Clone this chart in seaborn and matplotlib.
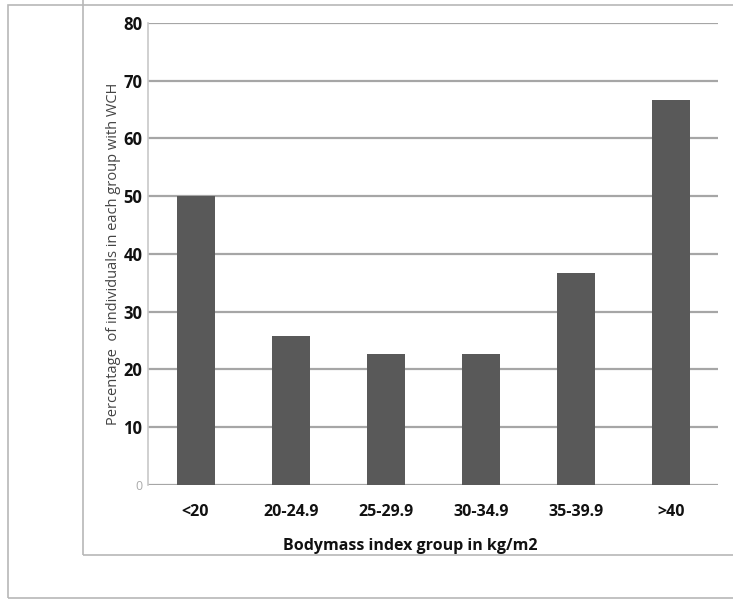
import matplotlib
matplotlib.use("Agg")
import matplotlib.pyplot as plt
import seaborn as sns
import pandas as pd
from matplotlib.patches import Rectangle

# data
groups = ["<20", "20-24.9", "25-29.9", "30-34.9", "35-39.9", ">40"]
pct_wch = [50.0, 25.8, 22.6, 22.6, 36.6, 66.7]
yticks = [0, 10, 20, 30, 40, 50, 60, 70, 80]

df = pd.DataFrame({"group": groups, "pct": pct_wch})

sns.set_style("white")
plt.rcParams["font.family"] = ["Open Sans", "DejaVu Sans"]

fig = plt.figure(figsize=(7.33, 6), dpi=100)
ax = fig.add_axes([0.202, 0.192, 0.778, 0.770])

# frames around the chart
fig.patches.append(Rectangle((0.011, 0.003), 1.2, 0.989, transform=fig.transFigure,
                             fill=False, edgecolor="#b8b8b8", linewidth=1.2))
fig.patches.append(Rectangle((0.113, 0.075), 1.2, 1.2, transform=fig.transFigure,
                             fill=False, edgecolor="#b8b8b8", linewidth=1.2))

sns.barplot(data=df, x="group", y="pct", color="#595959", saturation=1,
            width=0.4, linewidth=0, ax=ax, zorder=3)

ax.set_ylim(0, 80)
ax.set_xlim(-0.5, 5.5)
ax.set_yticks(yticks)
ax.set_yticklabels([str(t) for t in yticks])
for lab in ax.get_yticklabels():
    lab.set_fontweight("bold")
    lab.set_fontsize(12)
    lab.set_color("#111111")
ax.get_yticklabels()[0].set_color("#aaaaaa")
ax.get_yticklabels()[0].set_fontweight("normal")
ax.get_yticklabels()[0].set_fontsize(9)

ax.tick_params(axis="x", length=0, pad=14, labelsize=11.5)
ax.tick_params(axis="y", length=0, pad=4)
for lab in ax.get_xticklabels():
    lab.set_fontweight("bold")
    lab.set_color("#111111")

ax.grid(axis="y", color="#a6a6a6", linewidth=1.6, zorder=0)
ax.set_axisbelow(True)
for s in ["top", "right", "bottom"]:
    ax.spines[s].set_visible(False)
ax.spines["left"].set_color("#c8c8c8")
ax.spines["left"].set_linewidth(1.2)

ax.set_xlabel("Bodymass index group in kg/m2", fontsize=11.5, fontweight="bold",
              color="#111111", labelpad=14)
ax.xaxis.set_label_coords(0.46, -0.115)
ax.set_ylabel("Percentage  of individuals in each group with WCH", fontsize=10.5,
              color="#444444", labelpad=2)

fig.savefig("out.png", dpi=100)
